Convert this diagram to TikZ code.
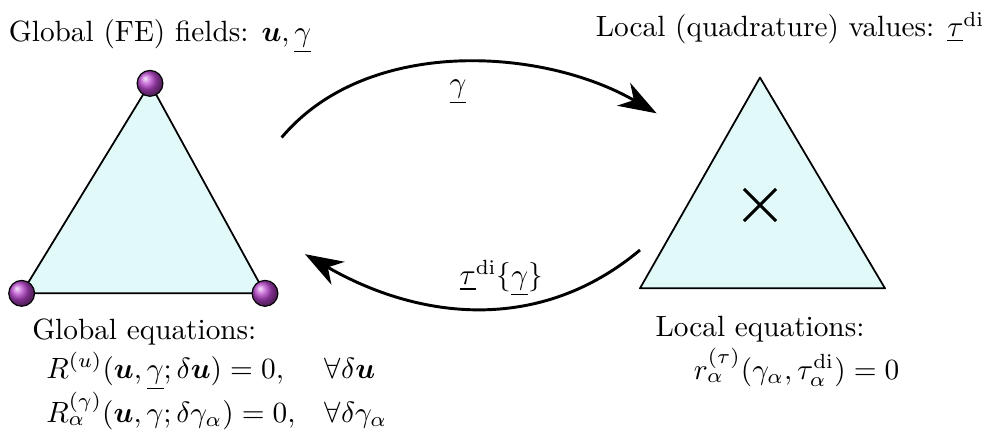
\documentclass[tikz,border=0pt]{standalone}
\usepackage{bm}
\usetikzlibrary{arrows.meta,shapes.misc}
\definecolor{elemfill}{RGB}{226,249,250}
\definecolor{nodeball}{RGB}{185,70,205}
\tikzset{
  elem/.style={draw,fill=elemfill,line width=0.6pt,line join=round},
  fenode/.style={circle,inner sep=0pt,minimum size=0.31cm,shading=ball,ball color=nodeball,draw=black,line width=0.4pt},
  flow/.style={line width=1pt,-{Stealth[length=13pt,width=9pt,inset=4pt]}},
  caption/.style={inner sep=0pt,anchor=base west}
}
\begin{document}
\begin{tikzpicture}
\useasboundingbox (0,0) rectangle (11.82,5.21);

\coordinate (gt) at (1.80,4.21);
\coordinate (gl) at (0.26,1.69);
\coordinate (gr) at (3.18,1.69);
\draw[elem] (gt) -- (gl) -- (gr) -- cycle;
\node[fenode] (n1) at (gt) {};
\node[fenode] (n2) at (gl) {};
\node[fenode] (n3) at (gr) {};

\coordinate (lt) at (9.12,4.28);
\coordinate (ll) at (7.68,1.75);
\coordinate (lr) at (10.62,1.75);
\draw[elem] (lt) -- (ll) -- (lr) -- cycle;
\node[cross out,draw,line width=1pt,minimum size=0.35cm,inner sep=0pt] (qp) at (9.12,2.75) {};

\node[caption] (gtitle) at (0.10,4.71) {Global (FE) fields: $\bm{u},\underline{\gamma}$};
\node[caption,anchor=base east] (ltitle) at (11.82,4.77) {Local (quadrature) values: $\underline{\tau}^{\rm di}$};

\coordinate (a1) at (3.38,3.56);
\coordinate (a2) at (7.88,3.85);
\draw[flow] (a1) to[out=50,in=150,looseness=0.9] node[below=2pt] (glab) {$\underline{\gamma}$} (a2);
\coordinate (b1) at (7.68,2.21);
\coordinate (b2) at (3.66,2.16);
\draw[flow] (b1) to[out=-140,in=-30] node[above,pos=0.43] (tlab) {$\underline{\tau}^{\rm di}\{\underline{\gamma}\}$} (b2);

\node[caption] (geqs) at (0.38,1.14) {Global equations:};
\node[caption] (geqlist) at (0.55,0.67) {$\begin{array}[t]{@{}l@{\hspace{10pt}}l@{}}
  R^{(u)}(\bm{u},\underline{\gamma};\delta\bm{u})=0, & \forall\delta\bm{u}\\[1pt]
  R^{(\gamma)}_{\alpha}(\bm{u},\gamma;\delta\gamma_{\alpha})=0, & \forall\delta\gamma_{\alpha}
\end{array}$};
\node[caption] (leqs) at (7.86,1.17) {Local equations:};
\node[caption] (leqlist) at (8.32,0.66) {$r^{(\tau)}_{\alpha}(\gamma_{\alpha},\tau^{\rm di}_{\alpha})=0$};
\end{tikzpicture}
\end{document}
